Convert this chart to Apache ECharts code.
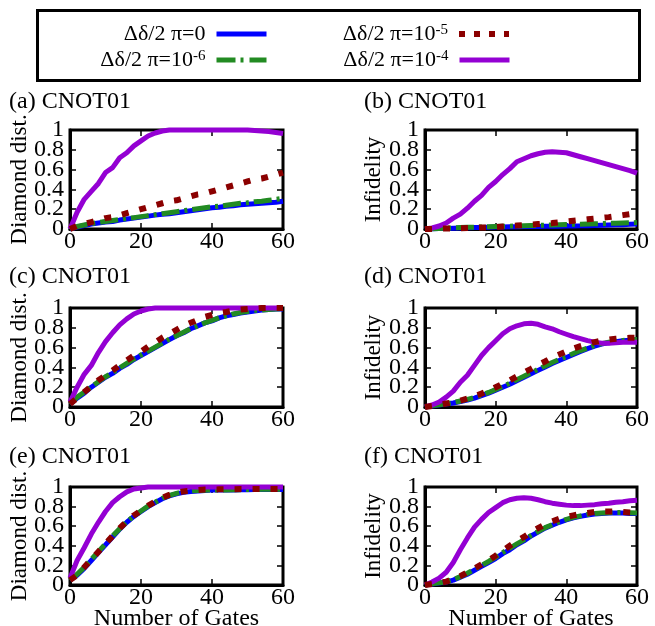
<!DOCTYPE html>
<html>
<head>
<meta charset="utf-8">
<script src="https://cdn.jsdelivr.net/npm/echarts@6/dist/echarts.min.js"></script>
<style>html,body{margin:0;padding:0;background:#fff}#c{width:655px;height:626px}</style>
</head>
<body>
<div id="c"></div>
<script>
// ---- data ----
var gates = [0,2,4,6,8,10,12,14,16,18,20,22,24,26,28,30,32,34,36,38,40,42,44,46,48,50,52,54,56,58,60];
var seriesNames = ['Δδ/2 π=0', 'Δδ/2 π=10^-6', 'Δδ/2 π=10^-5', 'Δδ/2 π=10^-4'];
var panelTitles = ['(a) CNOT01','(b) CNOT01','(c) CNOT01','(d) CNOT01','(e) CNOT01','(f) CNOT01'];
var yNames = ['Diamond dist.','Infidelity','Diamond dist.','Infidelity','Diamond dist.','Infidelity'];
var xName = 'Number of Gates';

var a0 = [0,0.02,0.035,0.05,0.06,0.07,0.075,0.09,0.1,0.11,0.12,0.13,0.14,0.15,0.155,0.165,0.175,0.185,0.195,0.205,0.215,0.22,0.23,0.235,0.245,0.25,0.255,0.26,0.265,0.27,0.28];
var a6 = [0,0.025,0.04,0.055,0.065,0.075,0.085,0.095,0.105,0.115,0.125,0.135,0.145,0.155,0.165,0.175,0.185,0.195,0.205,0.215,0.225,0.23,0.24,0.25,0.26,0.265,0.275,0.28,0.29,0.3,0.31];
var a5 = [0,0.03,0.05,0.07,0.09,0.11,0.12,0.14,0.16,0.18,0.2,0.22,0.24,0.26,0.28,0.29,0.31,0.33,0.35,0.36,0.38,0.4,0.42,0.44,0.46,0.48,0.5,0.51,0.53,0.55,0.57];
var a4 = [0,0.17,0.3,0.38,0.46,0.57,0.62,0.72,0.77,0.84,0.89,0.94,0.97,0.99,1,1,1,1,1,1,1,1,1,1,1,1,0.995,0.99,0.985,0.975,0.965];

var b0 = [0,0.002,0.004,0.006,0.008,0.01,0.012,0.014,0.016,0.018,0.02,0.021,0.022,0.023,0.024,0.025,0.026,0.027,0.028,0.029,0.03,0.031,0.032,0.034,0.036,0.038,0.04,0.042,0.044,0.047,0.05];
var b6 = [0,0.003,0.006,0.009,0.012,0.015,0.017,0.019,0.021,0.023,0.025,0.027,0.029,0.031,0.033,0.035,0.037,0.039,0.041,0.043,0.045,0.047,0.049,0.051,0.053,0.055,0.057,0.059,0.061,0.063,0.065];
var b5 = [0,0.001,0.003,0.005,0.007,0.008,0.01,0.012,0.015,0.017,0.02,0.025,0.03,0.035,0.04,0.045,0.05,0.055,0.06,0.068,0.075,0.083,0.09,0.098,0.105,0.113,0.12,0.13,0.14,0.15,0.16];
var b4 = [0,0.01,0.03,0.06,0.11,0.15,0.21,0.28,0.34,0.42,0.48,0.55,0.61,0.68,0.71,0.74,0.76,0.775,0.78,0.775,0.77,0.75,0.73,0.71,0.69,0.67,0.65,0.63,0.61,0.59,0.565];

var c0 = [0.03,0.09,0.14,0.2,0.25,0.3,0.34,0.39,0.43,0.48,0.52,0.56,0.6,0.64,0.68,0.72,0.75,0.79,0.82,0.85,0.87,0.9,0.92,0.935,0.95,0.96,0.97,0.98,0.985,0.99,0.99];
var c6 = [0.03,0.1,0.15,0.205,0.255,0.305,0.345,0.395,0.44,0.485,0.525,0.565,0.605,0.645,0.685,0.72,0.755,0.79,0.82,0.85,0.875,0.9,0.92,0.94,0.955,0.965,0.975,0.98,0.985,0.99,0.995];
var c5 = [0.03,0.09,0.15,0.21,0.27,0.32,0.37,0.42,0.47,0.52,0.56,0.61,0.65,0.7,0.74,0.78,0.82,0.85,0.88,0.91,0.93,0.95,0.96,0.975,0.985,0.99,0.995,1,1,1,1];
var c4 = [0.05,0.2,0.33,0.42,0.55,0.66,0.75,0.83,0.89,0.94,0.97,0.99,1,1,1,1,1,1,1,1,1,1,1,1,1,1,1,1,1,1,1];

var d0 = [0,0.01,0.02,0.03,0.04,0.055,0.07,0.09,0.115,0.14,0.17,0.2,0.23,0.265,0.3,0.335,0.37,0.405,0.44,0.47,0.5,0.53,0.56,0.59,0.615,0.635,0.65,0.66,0.67,0.675,0.68];
var d6 = [0,0.012,0.022,0.033,0.045,0.06,0.077,0.097,0.12,0.147,0.177,0.207,0.24,0.275,0.31,0.345,0.38,0.415,0.45,0.48,0.51,0.54,0.57,0.595,0.62,0.64,0.655,0.665,0.672,0.678,0.682];
var d5 = [0,0.01,0.02,0.035,0.05,0.065,0.085,0.11,0.135,0.165,0.2,0.235,0.27,0.31,0.35,0.385,0.425,0.46,0.5,0.53,0.56,0.59,0.615,0.635,0.655,0.67,0.68,0.69,0.695,0.7,0.7];
var d4 = [0,0.02,0.05,0.1,0.16,0.25,0.32,0.42,0.52,0.6,0.67,0.74,0.79,0.82,0.84,0.845,0.835,0.81,0.79,0.76,0.735,0.71,0.69,0.67,0.655,0.645,0.645,0.65,0.655,0.655,0.655];

var e0 = [0.05,0.1,0.17,0.25,0.33,0.41,0.49,0.57,0.64,0.7,0.75,0.8,0.84,0.88,0.91,0.93,0.945,0.955,0.96,0.965,0.97,0.97,0.97,0.97,0.972,0.973,0.974,0.975,0.975,0.975,0.975];
var e6 = [0.05,0.11,0.18,0.26,0.34,0.42,0.5,0.575,0.645,0.705,0.755,0.805,0.845,0.885,0.915,0.935,0.95,0.96,0.965,0.968,0.97,0.97,0.97,0.972,0.973,0.974,0.975,0.976,0.976,0.976,0.977];
var e5 = [0.05,0.1,0.18,0.26,0.34,0.42,0.5,0.58,0.65,0.71,0.76,0.81,0.85,0.89,0.92,0.94,0.955,0.965,0.97,0.975,0.975,0.976,0.977,0.978,0.979,0.98,0.98,0.98,0.98,0.98,0.98];
var e4 = [0.07,0.25,0.38,0.52,0.64,0.75,0.84,0.9,0.95,0.98,0.99,1,1,1,1,1,1,1,1,1,1,1,1,1,1,1,1,1,1,1,1];

var f0 = [0,0.01,0.02,0.03,0.05,0.08,0.11,0.15,0.19,0.23,0.27,0.32,0.36,0.41,0.45,0.5,0.54,0.58,0.61,0.64,0.665,0.685,0.7,0.715,0.725,0.73,0.735,0.735,0.735,0.73,0.73];
var f6 = [0,0.012,0.022,0.034,0.055,0.085,0.12,0.16,0.2,0.24,0.285,0.33,0.375,0.42,0.46,0.505,0.545,0.585,0.615,0.645,0.67,0.69,0.705,0.72,0.73,0.735,0.738,0.74,0.74,0.738,0.735];
var f5 = [0,0.01,0.02,0.035,0.06,0.09,0.13,0.17,0.21,0.25,0.3,0.35,0.4,0.45,0.49,0.54,0.58,0.62,0.65,0.675,0.695,0.71,0.725,0.735,0.745,0.75,0.75,0.75,0.745,0.74,0.735];
var f4 = [0,0.03,0.07,0.13,0.23,0.36,0.48,0.59,0.67,0.74,0.79,0.84,0.87,0.885,0.89,0.885,0.87,0.85,0.835,0.825,0.815,0.81,0.81,0.815,0.82,0.83,0.835,0.845,0.85,0.86,0.865];

var panels = [[a0,a6,a5,a4],[b0,b6,b5,b4],[c0,c6,c5,c4],[d0,d6,d5,d4],[e0,e6,e5,e4],[f0,f6,f5,f4]];

// ---- styles / layout ----
var FONT = 'Liberation Serif';
var lineStyles = [
  {color:'#0000ff', width:5, type:'solid'},
  {color:'#228b22', width:5, type:[18,5,3,5]},
  {color:'#8b0000', width:6, type:[7,11]},
  {color:'#9400d3', width:5, type:'solid'}
];
var legendLine = [
  {color:'#0000ff', width:5, type:'solid'},
  {color:'#228b22', width:5, type:[19,5,3,6]},
  {color:'#8b0000', width:6, type:[6,9]},
  {color:'#9400d3', width:5, type:'solid'}
];
var drawOrder = [0,1,3,2];
var rects = [
  {left:70, top:130, width:213, height:99},
  {left:425, top:130, width:212, height:99},
  {left:70, top:308, width:213, height:99},
  {left:425, top:308, width:212, height:99},
  {left:70, top:487, width:213, height:98},
  {left:425, top:487, width:212, height:98}
];
var titlePos = [[9,90],[364,90],[9,265],[364,265],[9,445],[364,445]];
var yNameGap = [39,40,39,40,39,40];
var xNamePos = [[176.5,607],[531,607]];

var chart = echarts.init(document.getElementById('c'), null, {renderer:'canvas'});
var grids = [], xAxes = [], yAxes = [], series = [], titles = [];
function mkLine(show){ return {show:show, onZero:false, lineStyle:{color:'#000', width:3}}; }
function mkTick(){ return {show:true, inside:true, length:6, lineStyle:{color:'#000', width:1.5}}; }
function mkLab(extra){
  var o = {color:'#000', fontSize:24, fontFamily:FONT, hideOverlap:false};
  for (var k in extra) o[k] = extra[k];
  return o;
}
var N = rects.length;

// data grids (with frame)
rects.forEach(function(r){
  grids.push({left:r.left, top:r.top, width:r.width, height:r.height, show:true,
    borderColor:'#000', borderWidth:3, backgroundColor:'rgba(0,0,0,0)'});
});
// mirror grids (top/right ticks)
rects.forEach(function(r){
  grids.push({left:r.left, top:r.top, width:r.width, height:r.height, show:false});
});

rects.forEach(function(g, i){
  titles.push({text:panelTitles[i], left:titlePos[i][0], top:titlePos[i][1], padding:0,
    textStyle:{fontFamily:FONT, fontSize:24, fontWeight:'normal', color:'#000'}});
  // bottom x axis
  xAxes.push({type:'value', gridIndex:i, min:0, max:60, interval:20, position:'bottom',
    axisLine:mkLine(true), axisTick:mkTick(), splitLine:{show:false},
    axisLabel:mkLab({margin:1, showMinLabel:true, showMaxLabel:true})});
  // left y axis: inner labels 0.2..0.8
  yAxes.push({type:'value', gridIndex:i, min:0, max:1, interval:0.2, position:'left',
    axisLine:mkLine(true), axisTick:mkTick(), splitLine:{show:false},
    axisLabel:mkLab({margin:6, showMinLabel:false, showMaxLabel:false}),
    name:yNames[i], nameLocation:'middle', nameGap:yNameGap[i], nameMoveOverlap:false,
    nameTextStyle:{color:'#000', fontSize:23, fontFamily:FONT}});
  // label-only left axis for 0 and 1
  yAxes.push({type:'value', gridIndex:i, min:0, max:1, interval:1, position:'left',
    axisLine:mkLine(false), axisTick:{show:false}, splitLine:{show:false},
    axisLabel:mkLab({margin:6, showMinLabel:true, showMaxLabel:true})});
  drawOrder.forEach(function(s){
    series.push({
      type:'line', name:seriesNames[s], xAxisIndex:i, yAxisIndex:i*2,
      data: gates.map(function(x,k){ return [x, panels[i][s][k]]; }),
      symbol:'none', showSymbol:false, clip:false, silent:true, animation:false,
      lineStyle:lineStyles[s], itemStyle:{color:lineStyles[s].color}
    });
  });
});
// mirror axes in mirror grids
rects.forEach(function(g, i){
  xAxes.push({type:'value', gridIndex:N+i, min:0, max:60, interval:20, position:'top',
    axisLine:mkLine(false), axisTick:mkTick(), splitLine:{show:false}, axisLabel:{show:false}});
  yAxes.push({type:'value', gridIndex:N+i, min:0, max:1, interval:0.2, position:'right',
    axisLine:mkLine(false), axisTick:mkTick(), splitLine:{show:false}, axisLabel:{show:false}});
});
// x-axis name under the bottom row
xNamePos.forEach(function(p){
  titles.push({text:xName, left:p[0], top:p[1], textAlign:'center', padding:0,
    textStyle:{fontFamily:FONT, fontSize:24, fontWeight:'normal', color:'#000'}});
});

function fmt(name){
  var p = name.split('^');
  return (p.length > 1 ? '{n|' + p[0] + '}{s|' + p[1] + '}' : '{n|' + name + '}') + '{g| }';
}
var legendPos = [[386,23],[386,49],[143,23],[143,49]];
var legends = seriesNames.map(function(n, s){
  return {data:[n], align:'right', right:legendPos[s][0], top:legendPos[s][1], padding:0,
    itemWidth:50, itemHeight:22, selectedMode:false, formatter:fmt,
    lineStyle:legendLine[s],
    itemStyle:{color:'rgba(0,0,0,0)', borderWidth:0, opacity:0},
    textStyle:{color:'#000', fontFamily:FONT, fontSize:22,
      rich:{n:{fontFamily:FONT, fontSize:22, color:'#000'},
            s:{fontFamily:FONT, fontSize:15, color:'#000', verticalAlign:'top', lineHeight:15},
            g:{fontSize:8, width:6}}}};
});

chart.setOption({
  animation:false,
  backgroundColor:'#fff',
  title:titles,
  legend:legends,
  grid:grids,
  xAxis:xAxes,
  yAxis:yAxes,
  series:series,
  graphic:[{type:'rect', shape:{x:37.5, y:10.5, width:602, height:70},
    style:{fill:null, stroke:'#000', lineWidth:3}, silent:true}]
});
</script>
</body>
</html>
